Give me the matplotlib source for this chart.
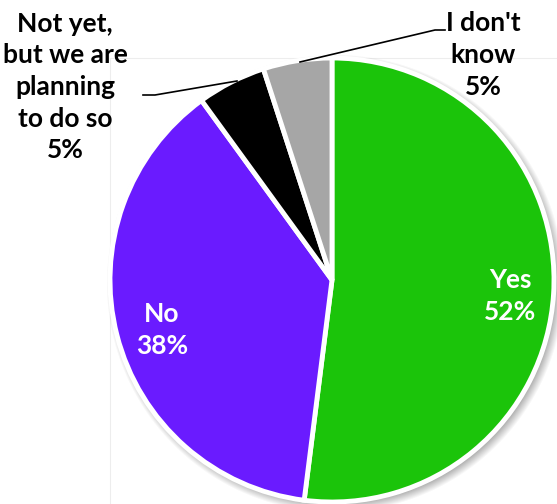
import numpy as np
import matplotlib.pyplot as plt
from matplotlib.patches import Rectangle

plt.rcParams["font.family"] = ["Lato", "DejaVu Sans"]

labels = ["Yes", "No", "Not yet,\nbut we are\nplanning\nto do so", "I don't\nknow"]
shares = [52, 38, 5, 5]
colors = ["#1BC40A", "#6A1BFF", "#000000", "#A6A6A6"]

W, H = 557, 504
CX, CY, R = 332, H - 280, 222

fig = plt.figure(figsize=(W / 100, H / 100), dpi=100)
ax = fig.add_axes([0, 0, 1, 1])

# faint plot-area frame
ax.add_patch(Rectangle((110, -5), W, H - 58 + 5, fill=False,
                       edgecolor="#EDEDED", linewidth=0.8, zorder=0))

# soft drop shadow under the pie
yy, xx = np.mgrid[0:H, 0:W]
d = np.hypot(xx - (CX + 3), (H - yy) - (CY - 3))
alpha = np.clip((R + 7 - d) / 9, 0, 1) * 0.45
shadow = np.zeros((H, W, 4))
shadow[..., :3] = 0.35
shadow[..., 3] = alpha
ax.imshow(shadow, extent=(0, W, 0, H), origin="upper", zorder=1)

wedges, _ = ax.pie(
    shares,
    colors=colors,
    startangle=90,
    counterclock=False,
    center=(CX, CY),
    radius=R,
    wedgeprops=dict(edgecolor="white", linewidth=3.5),
    frame=True,
)
for w in wedges:
    w.set_zorder(2)
ax.set_xlim(0, W)
ax.set_ylim(0, H)
ax.set_aspect("equal")
ax.axis("off")

txt = dict(fontsize=19, fontweight="bold", ha="center", va="center",
           linespacing=1.38, zorder=4)

# inside labels
ax.text(510, H - 296, f"{labels[0]}\n{shares[0]}%", color="white", **txt)
ax.text(162, H - 330, f"{labels[1]}\n{shares[1]}%", color="white", **txt)

# outside labels with leader lines
ax.text(65, H - 87, f"{labels[2]}\n{shares[2]}%", color="black", **txt)
ax.plot([143, 155, 237], [H - 95, H - 95, H - 81], color="black", lw=1.2, zorder=3)

ax.text(483, H - 55, f"{labels[3]}\n{shares[3]}%", color="black", **txt)
ax.plot([300, 435, 445], [H - 62, H - 30, H - 30], color="black", lw=1.2, zorder=3)

fig.savefig("out.png", dpi=100)
